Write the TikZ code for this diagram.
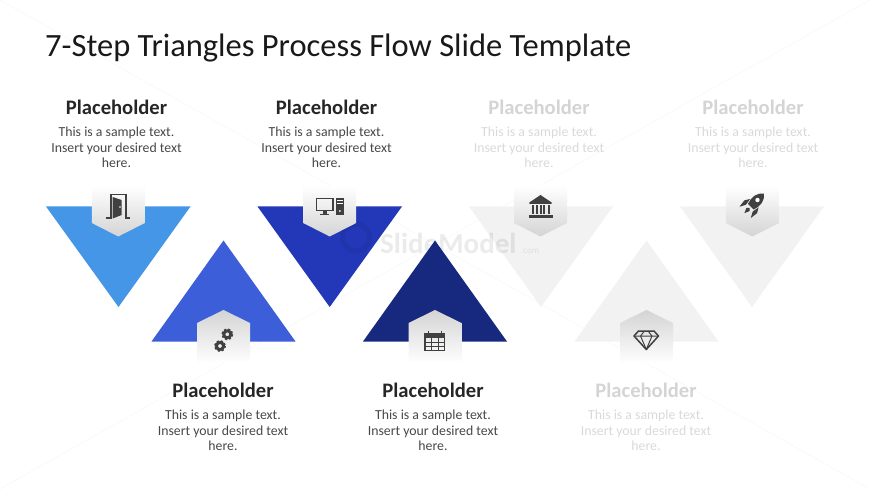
\documentclass[tikz,border=0pt]{standalone}
\usepackage{fontspec}
\setmainfont{Carlito}
\definecolor{stepA}{HTML}{4596E6}
\definecolor{stepB}{HTML}{3C5FD9}
\definecolor{stepC}{HTML}{2238B8}
\definecolor{stepD}{HTML}{17297F}
\definecolor{faded}{HTML}{F2F2F2}
\definecolor{icon}{HTML}{404040}
\newcommand{\sampletext}{This is a sample text.\\Insert your desired text\\here.}
\begin{document}
\begin{tikzpicture}[x=1pt,y=-1pt,
  head/.style={font=\fontsize{20.6}{22}\selectfont\bfseries,text=black!85,anchor=base},
  body/.style={font=\fontsize{13.8}{15.5}\selectfont,text=black!72,align=center,anchor=north},
  headoff/.style={head,text=black!17},
  bodyoff/.style={body,text=black!15},
  badgedown/.style={top color=white,bottom color=black!17},
  badgeup/.style={top color=black!17,bottom color=white},
  ink/.style={fill=icon,draw=none},
  line/.style={draw=icon,line width=1.1pt}]
\useasboundingbox (0,0) rectangle (870,489);

% background
\draw[black!4] (0,0) -- (870,489);
\draw[black!4] (870,0) -- (0,489);

% triangles
\fill[stepA] (46,206.5) -- (190.5,206.5) -- (118.5,307) -- cycle;
\fill[stepB] (151.5,341.5) -- (295.5,341.5) -- (223.5,240.5) -- cycle;
\fill[stepC] (257.5,206.5) -- (402,206.5) -- (329.7,307) -- cycle;
\fill[faded] (469,206.5) -- (613,206.5) -- (541,307) -- cycle;
\fill[faded] (574.5,341.5) -- (718.5,341.5) -- (646.5,240.5) -- cycle;
\fill[faded] (680,206.5) -- (824,206.5) -- (752,307) -- cycle;

% watermark
\fill[black,opacity=0.06,even odd rule] (356,237.5) circle (16) circle (11);
\node[text=black,opacity=0.08,font=\fontsize{29}{29}\selectfont\bfseries,anchor=base west,inner sep=0pt] (mark) at (380,253) {SlideModel};
\node[text=black,opacity=0.08,font=\fontsize{9}{9}\selectfont,anchor=base west,inner sep=0pt] (markcom) at (521,253) {.com};

\fill[stepD] (363,341.5) -- (507,341.5) -- (435,240.5) -- cycle;

% badges
\foreach \x in {118.3,329.7,540.5,752.3}
  \shade[badgedown] (\x-26.5,186) -- (\x+26.5,186) -- (\x+26.5,223) -- (\x,236.5) -- (\x-26.5,223) -- cycle;
\foreach \x in {223.5,435,646.5}
  \shade[badgeup] (\x,310) -- (\x+26.5,323) -- (\x+26.5,363) -- (\x-26.5,363) -- (\x-26.5,323) -- cycle;

% door
\draw[line] (106,218) -- (111,218) -- (111,194.5) -- (126,194.5) -- (126,218) -- (130,218);
\fill[ink] (112.7,197) -- (121.7,200) -- (121.7,215) -- (112.7,218.5) -- cycle;
\fill[white] (120,207) circle (0.8);

% computer
\draw[line] (316.3,198.8) rectangle (333,210.5);
\fill[ink] (323,211) rectangle (326.5,214);
\fill[ink] (320,214) rectangle (329,215.3);
\fill[ink] (335.7,198) rectangle (344,215.3);
\fill[white] (337,200.5) rectangle (342.7,201.5);
\fill[white] (337,203) rectangle (342.7,204);
\fill[white] (339.8,211) circle (1);

% bank
\fill[ink] (540.5,195) -- (551.7,202.5) -- (551.7,204) -- (529.3,204) -- (529.3,202.5) -- cycle;
\foreach \x in {531.5,535.7,539.5,543.3,547.5}
  \fill[ink] (\x,205) rectangle (\x+2,214.3);
\fill[ink] (528.7,215) rectangle (552.7,217.7);

% rocket
\begin{scope}[shift={(755,202.5)},rotate=-45]
\fill[ink] (0,-12.5) .. controls (6,-8) and (6.5,-1) .. (4,6) -- (-4,6) .. controls (-6.5,-1) and (-6,-8) .. (0,-12.5) -- cycle;
\fill[white] (0,-3.5) circle (2.2);
\fill[ink] (-6,1) -- (-9,6) -- (-8,14) -- (-4.8,8) -- cycle;
\fill[ink] (6,1) -- (9,6) -- (8,14) -- (4.8,8) -- cycle;
\fill[ink] (0,7.5) -- (2.2,10) -- (0,15) -- (-2.2,10) -- cycle;
\end{scope}

% diamond
\draw[icon,line width=1.5pt,line join=round] (638.5,331) -- (654,331) -- (658.5,336) -- (646.3,349.5) -- (634,336) -- cycle;
\draw[icon,line width=1pt,line join=round] (634,336) -- (658.5,336) (640.5,336) -- (646.3,349.5) -- (652,336) -- (648,331) (640.5,336) -- (644.5,331);

% calendar
\draw[line] (425,334) rectangle (444.8,350.5);
\fill[ink] (425,334) rectangle (444.8,338);
\foreach \x in {431.6,438.2}
  \draw[icon,line width=0.7pt] (\x,338) -- (\x,350.5);
\foreach \y in {342.2,346.4}
  \draw[icon,line width=0.7pt] (425,\y) -- (444.8,\y);
\foreach \x in {428.5,441.5}
  \draw[icon,line width=1.2pt] (\x,330.5) -- (\x,335);

% gears
\foreach \x/\y in {227.3/334.3,220/346}{
  \draw[icon,line width=2.8pt] (\x,\y) circle (3.5);
  \draw[icon,line width=1.8pt,dash pattern=on 2.3pt off 1.8pt] (\x,\y) circle (5.2);
}

% texts
\node[font=\fontsize{32.5}{34}\selectfont,text=black!90,anchor=base west,inner sep=0pt] (title) at (45,57) {7-Step Triangles Process Flow Slide Template};

\node[head] (headA) at (116.5,115) {Placeholder};
\node[body] (bodyA) at (116.5,123.7) {\sampletext};
\node[head] (headC) at (326.5,115) {Placeholder};
\node[body] (bodyC) at (326.5,123.7) {\sampletext};
\node[headoff] (headE) at (539,115) {Placeholder};
\node[bodyoff] (bodyE) at (539,123.7) {\sampletext};
\node[headoff] (headG) at (753,115) {Placeholder};
\node[bodyoff] (bodyG) at (753,123.7) {\sampletext};
\node[head] (headB) at (223,397) {Placeholder};
\node[body] (bodyB) at (223,406.7) {\sampletext};
\node[head] (headD) at (433,397) {Placeholder};
\node[body] (bodyD) at (433,406.7) {\sampletext};
\node[headoff] (headF) at (646,397) {Placeholder};
\node[bodyoff] (bodyF) at (646,406.7) {\sampletext};

\end{tikzpicture}
\end{document}
